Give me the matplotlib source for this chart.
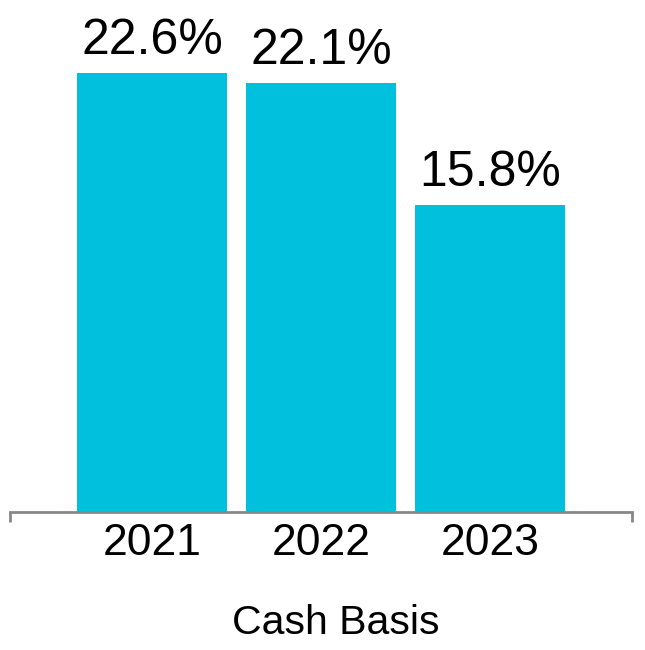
import matplotlib
matplotlib.use('Agg')
import matplotlib.pyplot as plt

plt.rcParams['font.family'] = ['Liberation Sans', 'DejaVu Sans']

years = ['2021', '2022', '2023']
values = [22.6, 22.1, 15.8]
labels = ['22.6%', '22.1%', '15.8%']

fig = plt.figure(figsize=(6.45, 6.5), dpi=100)
ax = fig.add_axes([10 / 645, 138 / 650, 622 / 645, 512 / 650])

x = range(len(years))
bars = ax.bar(x, values, width=0.885, color='#00C0DE')
for b, lab in zip(bars, labels):
    ax.text(b.get_x() + b.get_width() / 2, b.get_height() + 0.45, lab,
            ha='center', va='bottom', fontsize=36)

ax.set_xlim(-0.84, 2.84)
ax.set_ylim(0, 26.36)
ax.set_yticks([])
ax.set_xticks(list(x))
ax.set_xticklabels(years, fontsize=32)
ax.tick_params(axis='x', which='major', length=0, pad=8)
ax.set_xticks([-0.84, 2.84], minor=True)
ax.tick_params(axis='x', which='minor', length=7, width=2, color='#888888')

for s in ['top', 'right', 'left']:
    ax.spines[s].set_visible(False)
ax.spines['bottom'].set_color('#888888')
ax.spines['bottom'].set_linewidth(2)

fig.text(336 / 645, 1 - 623 / 650, 'Cash Basis', ha='center', va='center', fontsize=29.5)

fig.savefig('out.png', dpi=100)
